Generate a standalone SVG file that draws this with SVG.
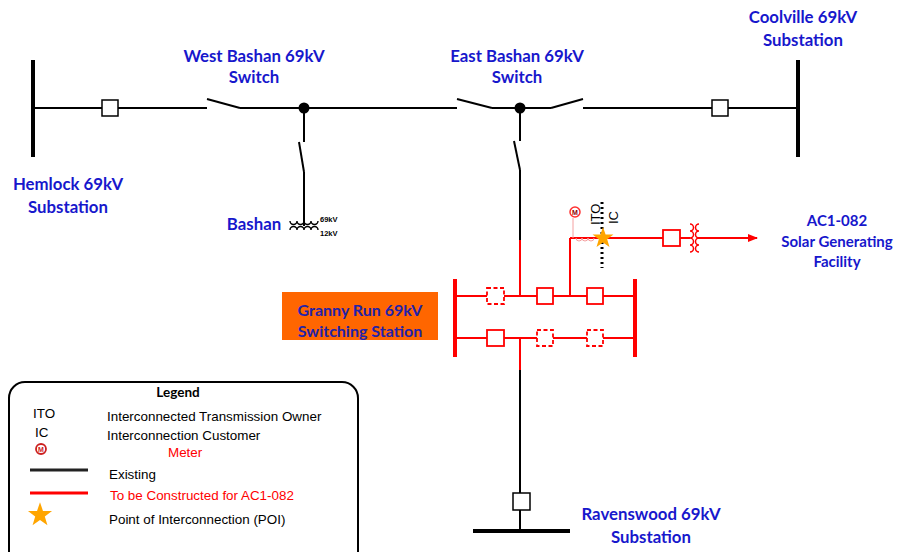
<svg xmlns="http://www.w3.org/2000/svg" width="898" height="552" viewBox="0 0 898 552">
<style>
.lbl{font-family:Lato,"Liberation Sans",sans-serif;font-weight:bold;font-size:16.8px;fill:#1717CC;text-anchor:middle}
.blk{stroke:#000;stroke-width:2;fill:none}
.bus{stroke:#000;stroke-width:4;fill:none}
.red{stroke:#FF0000;stroke-width:2;fill:none}
.rbus{stroke:#FF0000;stroke-width:4;fill:none}
.brk{fill:#fff;stroke:#000;stroke-width:1.5}
.rbrk{fill:#fff;stroke:#FF0000;stroke-width:1.8}
.dbrk{fill:#fff;stroke:#FF0000;stroke-width:1.8;stroke-dasharray:4 2.5}
.leg{font-family:"Liberation Sans",Arial,sans-serif;font-size:13.4px;fill:#000}
</style>
<defs>
<path id="star" d="M0,-11 L2.59,-3.56 L10.46,-3.4 L4.18,1.36 L6.47,8.9 L0,4.4 L-6.47,8.9 L-4.18,1.36 L-10.46,-3.4 L-2.59,-3.56 Z" fill="#FFA500"/>
<marker id="arr" markerWidth="10" markerHeight="8" refX="9" refY="4" orient="auto" markerUnits="userSpaceOnUse">
<path d="M0,0 L10,4 L0,8 Z" fill="#FF0000"/>
</marker>
</defs>

<g id="connectors">
<line class="blk" x1="33" y1="108" x2="207" y2="108"/>
<line class="blk" x1="207" y1="99" x2="240" y2="108" stroke-width="1.5"/>
<line class="blk" x1="240" y1="108" x2="457" y2="108"/>
<line class="blk" x1="457" y1="99" x2="492" y2="108" stroke-width="1.5"/>
<line class="blk" x1="492" y1="108" x2="551" y2="108"/>
<line class="blk" x1="551" y1="108" x2="583" y2="99" stroke-width="1.5"/>
<line class="blk" x1="583" y1="108" x2="798" y2="108"/>
<line class="blk" x1="304" y1="108" x2="304" y2="142"/>
<line class="blk" x1="299" y1="142" x2="304" y2="172" stroke-width="1.5"/>
<line class="blk" x1="304" y1="172" x2="304" y2="226"/>
<line class="blk" x1="520" y1="108" x2="520" y2="141"/>
<line class="blk" x1="514" y1="141" x2="520" y2="170" stroke-width="1.5"/>
<line class="blk" x1="520" y1="170" x2="520" y2="240"/>
<line class="red" x1="520" y1="240" x2="520" y2="296"/>
<line class="red" x1="570" y1="238" x2="570" y2="296"/>
<line class="red" x1="570" y1="238" x2="690" y2="238"/>
<line class="red" x1="698" y1="238" x2="757" y2="238" marker-end="url(#arr)"/>
<line class="red" x1="520" y1="338" x2="520" y2="370"/>
<line class="blk" x1="520" y1="370" x2="520" y2="531"/>
</g>

<g id="hemlock">
<line class="bus" x1="33" y1="60" x2="33" y2="157"/>
<rect class="brk" x="102" y="100" width="16" height="16"/>
<text class="lbl" x="68" y="190">Hemlock 69kV</text>
<text class="lbl" x="68" y="213">Substation</text>
</g>

<g id="west-bashan">
<circle cx="304" cy="108" r="5.5" fill="#000"/>
<text class="lbl" x="254" y="62">West Bashan 69kV</text>
<text class="lbl" x="254" y="83">Switch</text>
</g>

<g id="bashan">
<path d="M290,221 a3.5,3.5 0 0 0 7,0 a3.5,3.5 0 0 0 7,0 a3.5,3.5 0 0 0 7,0 a3.5,3.5 0 0 0 7,0" fill="none" stroke="#000" stroke-width="1.4"/>
<path d="M290,230 a3.5,3.5 0 0 1 7,0 a3.5,3.5 0 0 1 7,0 a3.5,3.5 0 0 1 7,0 a3.5,3.5 0 0 1 7,0" fill="none" stroke="#000" stroke-width="1.4"/>
<text class="lbl" x="254" y="230">Bashan</text>
<text x="320" y="222" font-family="'Liberation Sans',Arial,sans-serif" font-size="7.5" font-weight="bold" fill="#000">69kV</text>
<text x="320" y="236" font-family="'Liberation Sans',Arial,sans-serif" font-size="7.5" font-weight="bold" fill="#000">12kV</text>
</g>

<g id="east-bashan">
<circle cx="520" cy="108" r="5.5" fill="#000"/>
<text class="lbl" x="517" y="62">East Bashan 69kV</text>
<text class="lbl" x="517" y="83">Switch</text>
</g>

<g id="coolville">
<line class="bus" x1="798" y1="60" x2="798" y2="157"/>
<rect class="brk" x="712" y="100" width="16" height="16"/>
<text class="lbl" x="803" y="23">Coolville 69kV</text>
<text class="lbl" x="803" y="46">Substation</text>
</g>

<g id="granny-run">
<rect x="282" y="292" width="156" height="48" fill="#FF6600"/>
<text class="lbl" x="360" y="316" style="fill:#2222AA;font-size:16px">Granny Run 69kV</text>
<text class="lbl" x="360" y="337" style="fill:#2222AA;font-size:16px">Switching Station</text>
<line class="rbus" x1="455" y1="279" x2="455" y2="357"/>
<line class="rbus" x1="635" y1="279" x2="635" y2="357"/>
<line class="red" x1="455" y1="296" x2="635" y2="296"/>
<line class="red" x1="455" y1="338" x2="635" y2="338"/>
<rect class="dbrk" x="487" y="288" width="17" height="16"/>
<rect class="rbrk" x="537" y="288" width="16" height="16"/>
<rect class="rbrk" x="587" y="288" width="16" height="16"/>
<rect class="rbrk" x="487" y="330" width="17" height="16"/>
<rect class="dbrk" x="537" y="330" width="16" height="16"/>
<rect class="dbrk" x="587" y="330" width="16" height="16"/>
</g>

<g id="poi">
<line x1="602" y1="202" x2="602" y2="268" stroke="#000" stroke-width="3" stroke-dasharray="2 3"/>
<line x1="573" y1="218" x2="573" y2="238" stroke="#F4A0A0" stroke-width="1"/>
<path d="M576,238 a3,3 0 0 0 6,0 a3,3 0 0 0 6,0 a3,3 0 0 0 6,0" fill="none" stroke="#F4A0A0" stroke-width="1"/>
<circle cx="575" cy="212" r="5" fill="#fff" stroke="#FF3030" stroke-width="1.5"/>
<text x="575" y="215" font-family="'Liberation Sans',Arial,sans-serif" font-size="7" font-weight="bold" fill="#8B0000" text-anchor="middle">M</text>
<use href="#star" x="603" y="238"/>
<text transform="translate(600,225) rotate(-90)" font-family="'Liberation Sans',Arial,sans-serif" font-size="13" fill="#000">ITO</text>
<text transform="translate(618,224) rotate(-90)" font-family="'Liberation Sans',Arial,sans-serif" font-size="13" fill="#000">IC</text>
</g>

<g id="ac1-082">
<rect class="rbrk" x="663" y="230" width="17" height="16"/>
<path d="M690,224 a3.5,3.5 0 0 1 0,7 a3.5,3.5 0 0 1 0,7 a3.5,3.5 0 0 1 0,7 a3.5,3.5 0 0 1 0,7" fill="none" stroke="#FF0000" stroke-width="1.5"/>
<path d="M699,224 a3.5,3.5 0 0 0 0,7 a3.5,3.5 0 0 0 0,7 a3.5,3.5 0 0 0 0,7 a3.5,3.5 0 0 0 0,7" fill="none" stroke="#FF0000" stroke-width="1.5"/>
<text class="lbl" x="837" y="226" style="font-size:15px">AC1-082</text>
<text class="lbl" x="837" y="247" style="font-size:15px">Solar Generating</text>
<text class="lbl" x="837" y="267" style="font-size:15px">Facility</text>
</g>

<g id="ravenswood">
<rect class="brk" x="513" y="493" width="17" height="17"/>
<line class="bus" x1="473" y1="531" x2="570" y2="531"/>
<text class="lbl" x="651" y="520">Ravenswood 69kV</text>
<text class="lbl" x="651" y="543">Substation</text>
</g>

<g id="legend">
<rect x="9" y="382" width="349" height="185" rx="16" ry="16" fill="#fff" stroke="#000" stroke-width="2"/>
<text x="178" y="397" font-family="Lato,'Liberation Sans',sans-serif" font-weight="bold" font-size="13.5" fill="#000" text-anchor="middle">Legend</text>
<text class="leg" x="33" y="418">ITO</text>
<text class="leg" x="107" y="421">Interconnected Transmission Owner</text>
<text class="leg" x="35" y="437">IC</text>
<text class="leg" x="107" y="440">Interconnection Customer</text>
<circle cx="41" cy="449" r="5" fill="#fff" stroke="#CC2020" stroke-width="1.8"/>
<text x="41" y="452" font-family="'Liberation Sans',Arial,sans-serif" font-size="7" font-weight="bold" fill="#CC2020" text-anchor="middle">M</text>
<text class="leg" x="168" y="457" style="fill:#FF0000">Meter</text>
<line x1="30" y1="470" x2="88" y2="470" stroke="#222" stroke-width="3"/>
<text class="leg" x="109" y="479">Existing</text>
<line x1="30" y1="493" x2="88" y2="493" stroke="#FF0000" stroke-width="3"/>
<text class="leg" x="110" y="500" style="fill:#FF0000">To be Constructed for AC1-082</text>
<use href="#star" transform="translate(40,515) scale(1.15)"/>
<text class="leg" x="109" y="524">Point of Interconnection (POI)</text>
</g>
</svg>
